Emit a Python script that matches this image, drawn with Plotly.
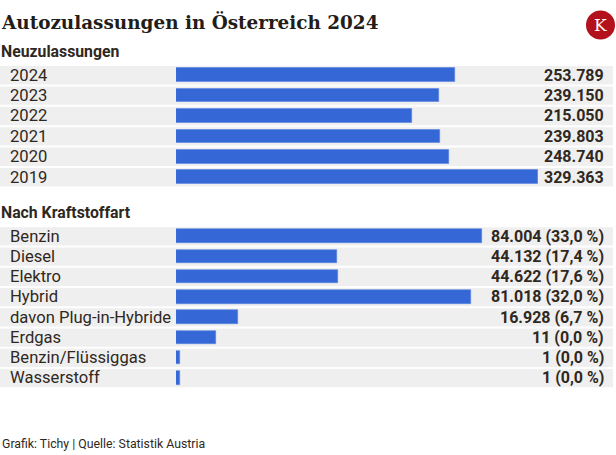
import plotly.graph_objects as go

# ---- data ----
years = ["2024", "2023", "2022", "2021", "2020", "2019"]
year_values = [253789, 239150, 215050, 239803, 248740, 329363]
year_labels = ["253.789", "239.150", "215.050", "239.803", "248.740", "329.363"]

fuels = ["Benzin", "Diesel", "Elektro", "Hybrid", "davon Plug-in-Hybride",
         "Erdgas", "Benzin/Flüssiggas", "Wasserstoff"]
# bar lengths as drawn in the picture
fuel_values = [84004, 44132, 44622, 81018, 16928, 11000, 1000, 1000]
fuel_labels = ["84.004 (33,0 %)", "44.132 (17,4 %)", "44.622 (17,6 %)", "81.018 (32,0 %)",
               "16.928 (6,7 %)", "11 (0,0 %)", "1 (0,0 %)", "1 (0,0 %)"]

title = "Autozulassungen in Österreich 2024"
sub1 = "Neuzulassungen"
sub2 = "Nach Kraftstoffart"
source = "Grafik: Tichy | Quelle: Statistik Austria"

W, H = 616, 455
BAR = "#3568d6"
ROWBG = "#efefef"
TXT = "#2f2821"

def px(x):
    return x / W

def py(y):
    return 1 - y / H

fig = go.Figure()
fig.add_trace(go.Bar(x=year_values, y=list(range(len(years))), orientation="h",
                     marker_color=BAR, marker_line_width=0.6,
                     marker_line_color="#5a84e0", width=0.66,
                     xaxis="x", yaxis="y", hoverinfo="skip"))
fig.add_trace(go.Bar(x=fuel_values, y=list(range(len(fuels))), orientation="h",
                     marker_color=BAR, marker_line_width=0.6,
                     marker_line_color="#5a84e0", width=0.66,
                     xaxis="x2", yaxis="y2", hoverinfo="skip"))

shapes = []
annotations = []
for yref, cats, labels in (("y", years, year_labels), ("y2", fuels, fuel_labels)):
    for i, (c, lab) in enumerate(zip(cats, labels)):
        shapes.append(dict(type="rect", xref="paper", yref=yref, x0=0, x1=px(613),
                           y0=i - 0.44, y1=i + 0.46,
                           fillcolor=ROWBG, line_width=0, layer="below"))
        annotations.append(dict(text=c, xref="paper", yref=yref, x=px(7.5), y=i,
                                xanchor="left", yanchor="middle", showarrow=False,
                                font=dict(family="Roboto", size=16.6, color=TXT)))
        annotations.append(dict(text="<b>" + lab + "</b>", xref="paper", yref=yref,
                                x=px(606), y=i, xanchor="right", yanchor="middle",
                                showarrow=False,
                                font=dict(family="Roboto", size=16, color=TXT)))

annotations += [
    dict(text="<b>" + title + "</b>", xref="paper", yref="paper", x=px(-1), y=py(22),
         xanchor="left", yanchor="middle", showarrow=False,
         font=dict(family="DejaVu Serif", size=18.4, color="#221d18")),
    dict(text="<b>" + sub1 + "</b>", xref="paper", yref="paper", x=px(-1), y=py(51),
         xanchor="left", yanchor="middle", showarrow=False,
         font=dict(family="Roboto", size=15.8, color=TXT)),
    dict(text="<b>" + sub2 + "</b>", xref="paper", yref="paper", x=px(-1), y=py(212),
         xanchor="left", yanchor="middle", showarrow=False,
         font=dict(family="Roboto", size=15.8, color=TXT)),
    dict(text=source, xref="paper", yref="paper", x=px(0), y=py(444),
         xanchor="left", yanchor="middle", showarrow=False,
         font=dict(family="Roboto", size=12.3, color=TXT)),
    dict(text="K", xref="paper", yref="paper", x=px(600.5), y=py(25),
         xanchor="center", yanchor="middle", showarrow=False,
         font=dict(family="DejaVu Serif", size=17, color="white")),
]
shapes.append(dict(type="circle", xref="paper", yref="paper",
                   x0=px(586), x1=px(615), y0=py(39.5), y1=py(10.5),
                   fillcolor="#b3121c", line_width=0))

fig.update_layout(
    width=W, height=H, margin=dict(l=0, r=0, t=0, b=0),
    paper_bgcolor="white", plot_bgcolor="rgba(0,0,0,0)",
    showlegend=False, bargap=0,
    xaxis=dict(domain=[px(176), px(538)], range=[0, 329363], visible=False,
               fixedrange=True),
    yaxis=dict(domain=[py(187.2), py(64.8)], range=[5.5, -0.5], visible=False,
               fixedrange=True),
    xaxis2=dict(domain=[px(176), px(538)], range=[0, 99500], visible=False,
                anchor="y2", fixedrange=True),
    yaxis2=dict(domain=[py(388), py(226)], range=[7.5, -0.5], visible=False,
                anchor="x2", fixedrange=True),
    shapes=shapes, annotations=annotations,
)

fig.write_html("out.html", config={"displayModeBar": False},
               post_script="document.body.style.margin='0';")
